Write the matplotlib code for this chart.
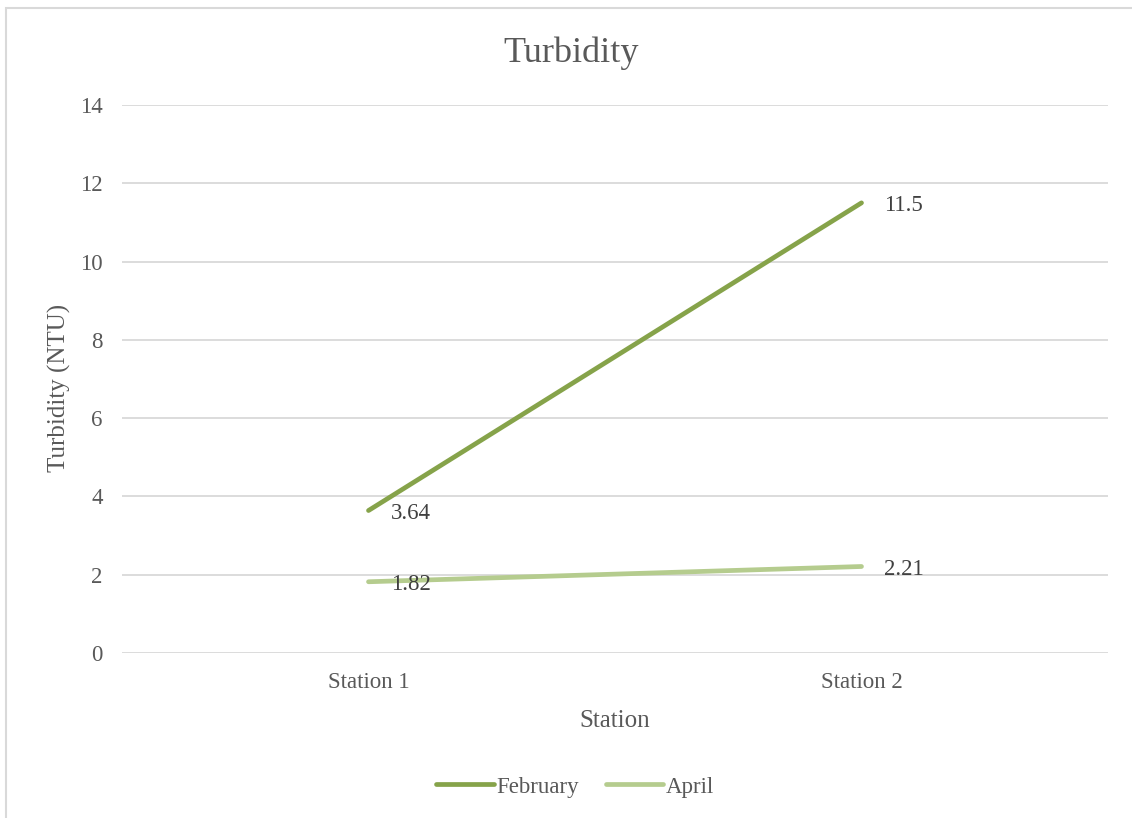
import matplotlib.pyplot as plt
import numpy as np
from matplotlib.patches import Rectangle

plt.rcParams['font.family'] = ['Liberation Serif', 'DejaVu Serif']

stations = ['Station 1', 'Station 2']
february = [3.64, 11.5]
april = [1.82, 2.21]

text_col = '#595959'
grid_col = '#D9D9D9'
feb_col = '#86A34A'
apr_col = '#B5CC8E'

fig = plt.figure(figsize=(11.32, 8.18), dpi=100)
ax = fig.add_axes([122 / 1132, 1 - 653 / 818, 986 / 1132, 548 / 818])

# chart frame (runs off the right and bottom edge)
fig.patches.append(Rectangle((6 / 1132, -0.1), 1.2, 1.1 - 8 / 818,
                             transform=fig.transFigure, fill=False,
                             edgecolor=grid_col, linewidth=1.5))

xpos = np.arange(len(stations)) + 0.5

ax.plot(xpos, february, color=feb_col, lw=3.4, solid_capstyle='round', label='February', zorder=3)
ax.plot(xpos, april, color=apr_col, lw=3.4, solid_capstyle='round', label='April', zorder=3)

for x, v in zip(xpos, february):
    ax.annotate(f'{v:g}', (x, v), xytext=(16, -2), textcoords='offset points',
                ha='left', va='center', fontsize=16.5, color='#404040')
for x, v in zip(xpos, april):
    ax.annotate(f'{v:g}', (x, v), xytext=(16, -2), textcoords='offset points',
                ha='left', va='center', fontsize=16.5, color='#404040')

ax.set_xlim(0, 2)
ax.set_ylim(0, 14)
ax.set_yticks(np.arange(0, 15, 2))
ax.set_xticks(xpos)
ax.set_xticklabels(stations)
ax.yaxis.grid(True, color=grid_col, lw=1.3)
ax.set_axisbelow(True)
for s in ax.spines.values():
    s.set_visible(False)
ax.tick_params(length=0, labelsize=16.5, colors=text_col)
ax.tick_params(axis='y', pad=14)
ax.tick_params(axis='x', pad=14)

fig.text(571 / 1132, 1 - 53 / 818, 'Turbidity', fontsize=26, color=text_col,
         ha='center', va='center')
ax.set_xlabel('Station', fontsize=18, color=text_col, labelpad=12)
ax.set_ylabel('Turbidity (NTU)', fontsize=18, color=text_col)
ax.yaxis.set_label_coords(71 / 1132, 1 - 388 / 818, transform=fig.transFigure)

fig.legend(loc='center', bbox_to_anchor=(575 / 1132, 1 - 787 / 818), ncol=2, frameon=False,
           fontsize=16.5, labelcolor=text_col, handlelength=2.5, handletextpad=0.1,
           columnspacing=1.2)

fig.savefig('out.png', dpi=100)
